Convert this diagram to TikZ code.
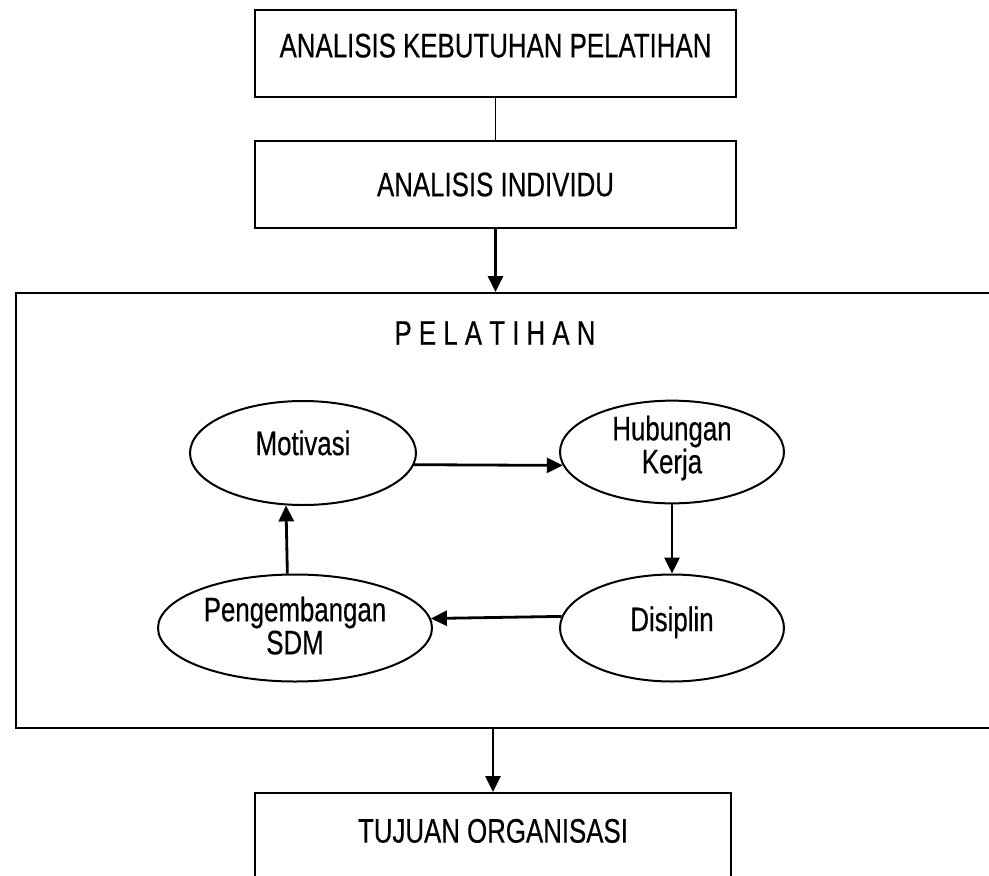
\documentclass[tikz,border=0pt]{standalone}
\usepackage{fontspec}
\setmainfont{Liberation Sans}[FakeStretch=0.76,FakeBold=0.4]
\usetikzlibrary{arrows.meta,shapes.geometric}
\begin{document}
\begin{tikzpicture}[x=1pt,y=-1pt,
  font=\fontsize{34}{33}\selectfont,
  boxnode/.style={draw, line width=1.5pt, rectangle, minimum width=481pt, minimum height=87pt, inner sep=0pt},
  ell/.style={draw, line width=2pt, ellipse, inner sep=0pt, align=center},
  conn/.style={line width=2.8pt, -{Triangle[width=15pt,length=16pt]}},
  thin/.style={line width=1.5pt}
]
\useasboundingbox (0,0) rectangle (989,876);
\clip (0,0) rectangle (989,876);

\node[boxnode, text depth=16pt] (kb) at (495.5,53.5) {ANALISIS KEBUTUHAN PELATIHAN};
\node[boxnode] (ai) at (495.5,184.5) {ANALISIS INDIVIDU};
\node[draw, line width=2pt, minimum width=1000pt, minimum height=435pt, anchor=north west, inner sep=0pt] (pel) at (15,292) {};
\node (pt) at (495,333) {P E L A T I H A N};

\node[ell, minimum width=226pt, minimum height=104pt, text depth=20.4pt] (mot) at (303,453) {Motivasi};
\node[ell, minimum width=224pt, minimum height=102pt, text depth=15pt] (hub) at (672,452) {Hubungan\\Kerja};
\node[ell, minimum width=274pt, minimum height=107pt, text depth=5pt] (pen) at (295,628) {Pengembangan\\SDM};
\node[ell, minimum width=224pt, minimum height=107pt, text depth=18.4pt] (dis) at (672,628) {Disiplin};

\node[draw, line width=1.5pt, minimum width=476pt, minimum height=120pt, anchor=north, inner sep=0pt, text depth=44pt] (tuj) at (493,792) {TUJUAN ORGANISASI};

\draw[thin] (kb.south) -- (ai.north);
\draw[conn] (ai.south) -- (ai.south |- pel.north);
\draw[conn] (tuj.north |- pel.south) -- (tuj.north);
\draw[conn] (mot.-6.8) -- (hub.187.4);
\draw[conn] (hub.south) -- (dis.north);
\draw[conn] (dis.174.8) -- (pen.4.25);
\draw[conn] (pen.98.5) -- (mot.252.7);
\end{tikzpicture}
\end{document}
